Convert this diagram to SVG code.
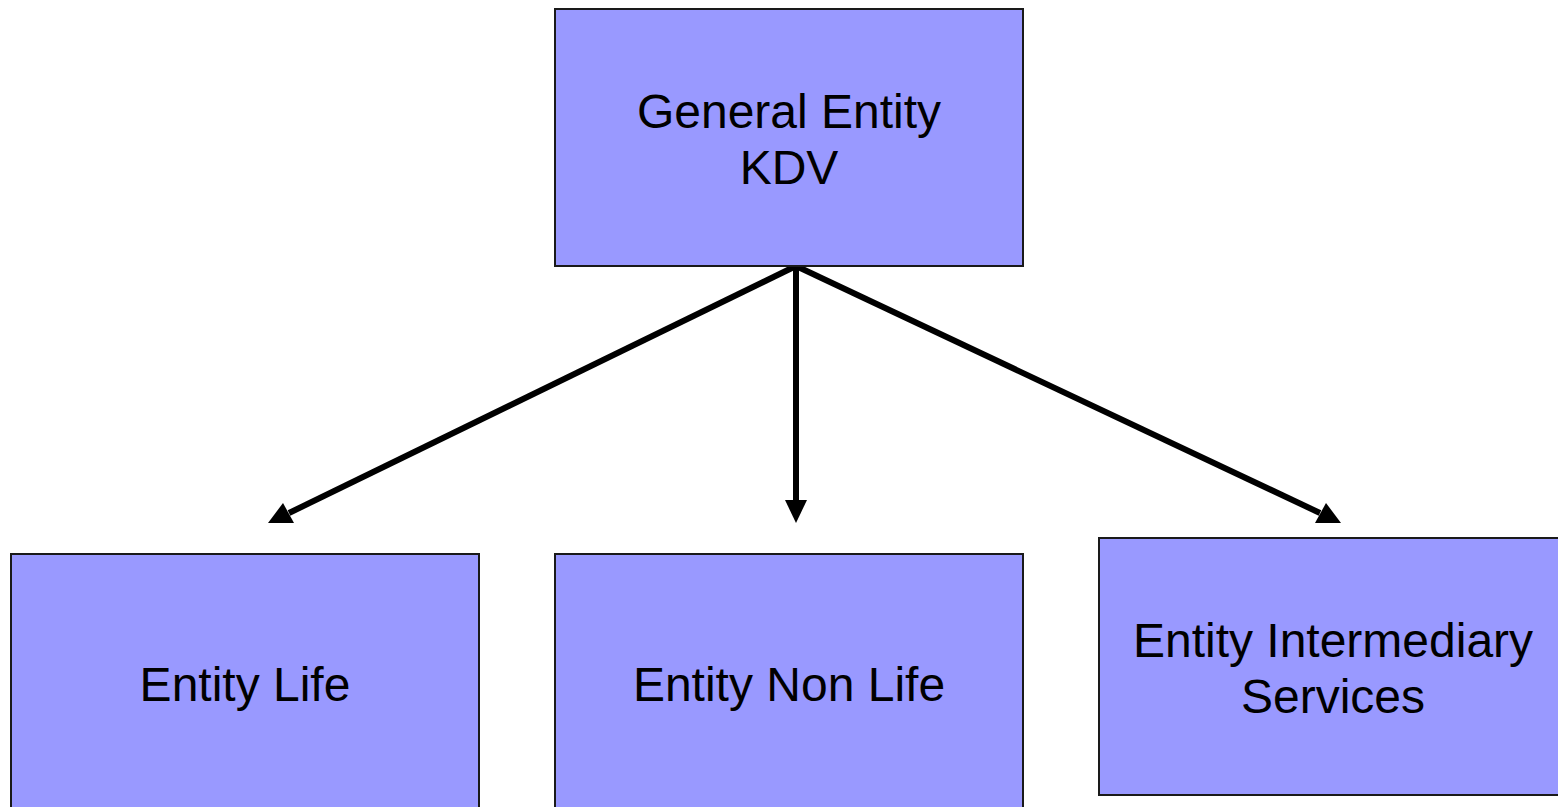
<svg xmlns="http://www.w3.org/2000/svg" width="1558" height="807" viewBox="0 0 1558 807">
<style>
.box{fill:#9999ff;stroke:#1a1a1a;stroke-width:2}
.lbl{font-family:"Liberation Sans",Arial,sans-serif;font-size:48px;fill:#000;text-anchor:middle}
.conn{stroke:#000;stroke-width:6;fill:none}
.head{fill:#000}
</style>
<g id="connectors">
<line class="conn" x1="796" y1="266" x2="289" y2="513"/>
<polygon class="head" points="268,523 294,523 283,503"/>
<line class="conn" x1="796" y1="266" x2="796" y2="502"/>
<polygon class="head" points="796,523 785,500 807,500"/>
<line class="conn" x1="796" y1="266" x2="1320" y2="513"/>
<polygon class="head" points="1341,523 1315,523 1326,503"/>
</g>
<g id="general">
<rect class="box" x="555" y="9" width="468" height="257"/>
<text class="lbl" x="789" y="128">General Entity</text>
<text class="lbl" x="789" y="184">KDV</text>
</g>
<g id="life">
<rect class="box" x="11" y="554" width="468" height="270"/>
<text class="lbl" x="245" y="701">Entity Life</text>
</g>
<g id="nonlife">
<rect class="box" x="555" y="554" width="468" height="270"/>
<text class="lbl" x="789" y="701">Entity Non Life</text>
</g>
<g id="intermediary">
<rect class="box" x="1099" y="538" width="470" height="257"/>
<text class="lbl" x="1333" y="657">Entity Intermediary</text>
<text class="lbl" x="1333" y="713">Services</text>
</g>
</svg>
